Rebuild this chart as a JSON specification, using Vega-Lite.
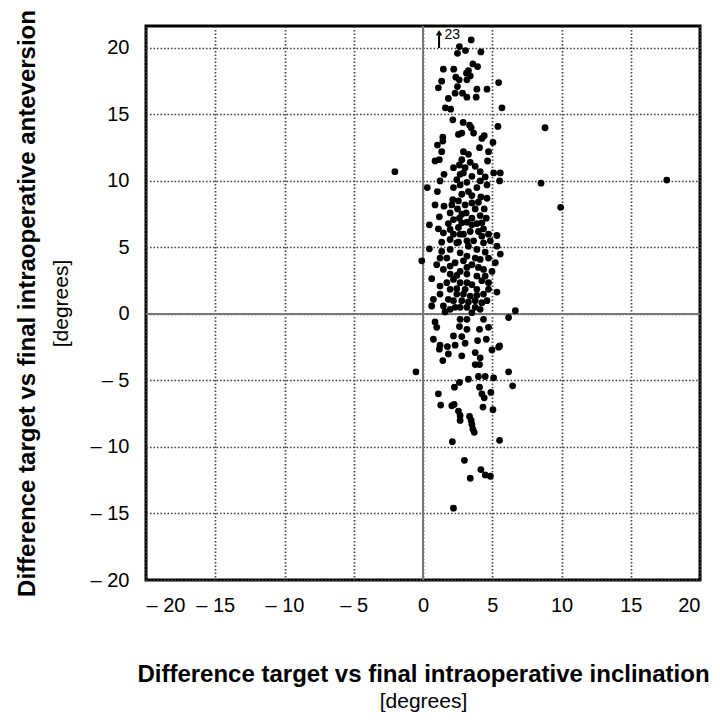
{
  "$schema": "https://vega.github.io/schema/vega-lite/v6.json",
  "width": 554,
  "height": 554,
  "autosize": "none",
  "padding": {"left": 146, "top": 26, "right": 20, "bottom": 140},
  "background": "white",
  "datasets": {
    "points": [
      {"x": 3.48, "y": 20.6}, {"x": 2.63, "y": 20.1}, {"x": 3.07, "y": 19.8}, {"x": 2.49, "y": 19.6}, {"x": 4.18, "y": 19.7},
      {"x": 1.47, "y": 18.4}, {"x": 2.22, "y": 18.4}, {"x": 3.6, "y": 18.8}, {"x": 3.94, "y": 18.6}, {"x": 3.28, "y": 18.3},
      {"x": 3.14, "y": 18.1}, {"x": 3.41, "y": 17.9}, {"x": 2.37, "y": 17.8}, {"x": 1.35, "y": 17.5}, {"x": 2.61, "y": 17.6},
      {"x": 3.17, "y": 17.6}, {"x": 5.46, "y": 17.4}, {"x": 1.11, "y": 17.0}, {"x": 2.49, "y": 17.1}, {"x": 3.89, "y": 16.9},
      {"x": 4.62, "y": 16.9}, {"x": 2.32, "y": 16.6}, {"x": 2.85, "y": 16.6}, {"x": 3.17, "y": 16.3}, {"x": 3.84, "y": 16.3},
      {"x": 1.83, "y": 16.2}, {"x": 5.7, "y": 15.5}, {"x": 1.62, "y": 15.5}, {"x": 2.0, "y": 15.4}, {"x": 2.15, "y": 14.6},
      {"x": 2.9, "y": 14.4}, {"x": 3.36, "y": 14.2}, {"x": 3.48, "y": 14.0}, {"x": 5.41, "y": 14.1}, {"x": 3.65, "y": 13.6},
      {"x": 2.8, "y": 13.6}, {"x": 2.56, "y": 13.5}, {"x": 4.42, "y": 13.4}, {"x": 1.43, "y": 13.3}, {"x": -2.03, "y": 10.7},
      {"x": 1.43, "y": 13.0}, {"x": 4.25, "y": 13.2}, {"x": 5.05, "y": 12.9}, {"x": 4.08, "y": 12.5}, {"x": 1.04, "y": 12.7},
      {"x": 1.35, "y": 12.2}, {"x": 4.73, "y": 12.2}, {"x": 2.92, "y": 12.2}, {"x": 0.87, "y": 11.5}, {"x": 1.18, "y": 11.6},
      {"x": 2.8, "y": 11.6}, {"x": 2.63, "y": 11.2}, {"x": 3.41, "y": 11.4}, {"x": 4.66, "y": 11.5}, {"x": 2.2, "y": 11.0},
      {"x": 3.04, "y": 11.0}, {"x": 3.77, "y": 11.1}, {"x": 4.13, "y": 10.7}, {"x": 2.92, "y": 10.6}, {"x": 5.58, "y": 10.6},
      {"x": 5.1, "y": 10.6}, {"x": 1.52, "y": 10.5}, {"x": 4.49, "y": 10.3}, {"x": 2.44, "y": 10.1}, {"x": 1.23, "y": 10.0},
      {"x": 5.53, "y": 10.0}, {"x": 0.31, "y": 9.5}, {"x": 3.17, "y": 9.9}, {"x": 4.13, "y": 10.0}, {"x": 4.62, "y": 9.7},
      {"x": 2.2, "y": 9.5}, {"x": 3.28, "y": 9.2}, {"x": 3.89, "y": 9.5}, {"x": 1.04, "y": 9.2}, {"x": 2.8, "y": 9.0},
      {"x": 3.53, "y": 8.9}, {"x": 4.18, "y": 8.8}, {"x": 4.62, "y": 8.7}, {"x": 2.15, "y": 8.6}, {"x": 4.0, "y": 8.4},
      {"x": 0.87, "y": 8.2}, {"x": 1.52, "y": 8.1}, {"x": 2.08, "y": 8.2}, {"x": 3.04, "y": 8.2}, {"x": 2.49, "y": 7.9},
      {"x": 3.77, "y": 7.9}, {"x": 4.42, "y": 7.9}, {"x": 1.96, "y": 7.6}, {"x": 3.12, "y": 7.6}, {"x": 1.18, "y": 7.3},
      {"x": 4.13, "y": 7.4}, {"x": 2.63, "y": 7.2}, {"x": 4.57, "y": 7.2}, {"x": 0.46, "y": 6.7}, {"x": 1.83, "y": 6.8},
      {"x": 3.17, "y": 6.9}, {"x": 3.89, "y": 6.8}, {"x": 1.11, "y": 6.4}, {"x": 2.56, "y": 6.5}, {"x": 4.37, "y": 6.4},
      {"x": 1.47, "y": 6.1}, {"x": 3.41, "y": 6.2}, {"x": 2.2, "y": 6.0}, {"x": 5.34, "y": 5.9}, {"x": 2.92, "y": 6.0},
      {"x": 4.73, "y": 6.0}, {"x": 1.35, "y": 5.4}, {"x": 3.65, "y": 5.5}, {"x": 4.86, "y": 5.5}, {"x": 2.56, "y": 5.4},
      {"x": 2.56, "y": 8.5}, {"x": 3.53, "y": 8.35}, {"x": 2.8, "y": 7.5}, {"x": 3.53, "y": 7.2}, {"x": 2.2, "y": 7.1},
      {"x": 4.25, "y": 6.85}, {"x": 2.8, "y": 6.85}, {"x": 3.53, "y": 6.7}, {"x": 1.96, "y": 6.35}, {"x": 4.0, "y": 6.2},
      {"x": 2.68, "y": 6.0}, {"x": 4.25, "y": 5.85}, {"x": 1.96, "y": 5.6}, {"x": 3.17, "y": 5.5}, {"x": 4.37, "y": 5.35},
      {"x": 3.28, "y": 12.0}, {"x": 2.68, "y": 10.5}, {"x": 3.53, "y": 10.35}, {"x": 2.68, "y": 9.7},
      {"x": 0.46, "y": 4.9}, {"x": -0.09, "y": 4.0}, {"x": 5.34, "y": 5.1}, {"x": 5.58, "y": 4.5}, {"x": 1.35, "y": 4.7},
      {"x": 1.96, "y": 4.85}, {"x": 2.68, "y": 4.6}, {"x": 3.89, "y": 4.85}, {"x": 4.49, "y": 4.65}, {"x": 1.72, "y": 4.2},
      {"x": 3.17, "y": 4.35}, {"x": 4.13, "y": 4.1}, {"x": 0.99, "y": 3.7}, {"x": 2.32, "y": 3.85}, {"x": 3.53, "y": 3.7},
      {"x": 5.22, "y": 3.85}, {"x": 1.47, "y": 3.35}, {"x": 2.68, "y": 3.2}, {"x": 4.37, "y": 3.35}, {"x": 4.98, "y": 3.2},
      {"x": 1.96, "y": 3.0}, {"x": 3.17, "y": 3.0}, {"x": 3.89, "y": 2.85}, {"x": 0.63, "y": 2.65}, {"x": 2.2, "y": 2.6},
      {"x": 4.73, "y": 2.35}, {"x": 1.72, "y": 2.35}, {"x": 2.68, "y": 2.35}, {"x": 3.53, "y": 2.2}, {"x": 4.25, "y": 2.5},
      {"x": 1.96, "y": 1.85}, {"x": 3.04, "y": 1.85}, {"x": 3.89, "y": 1.85}, {"x": 5.34, "y": 1.65}, {"x": 1.23, "y": 1.5},
      {"x": 2.44, "y": 1.5}, {"x": 3.41, "y": 1.35}, {"x": 4.37, "y": 1.5}, {"x": 0.75, "y": 1.1}, {"x": 1.83, "y": 1.1},
      {"x": 2.8, "y": 1.0}, {"x": 3.77, "y": 1.0}, {"x": 4.62, "y": 1.0}, {"x": 0.63, "y": 0.6}, {"x": 1.47, "y": 0.6},
      {"x": 2.32, "y": 0.5}, {"x": 3.17, "y": 0.5}, {"x": 4.13, "y": 0.35}, {"x": 6.67, "y": 0.25}, {"x": 6.18, "y": -0.27},
      {"x": 1.59, "y": 0.15}, {"x": 3.53, "y": 0.1}, {"x": 2.68, "y": -0.4}, {"x": 4.37, "y": -0.4}, {"x": 0.87, "y": -0.6},
      {"x": 3.17, "y": -0.4}, {"x": 0.99, "y": -1.0}, {"x": 2.63, "y": -0.95}, {"x": 4.08, "y": -1.15}, {"x": 4.73, "y": -1.0},
      {"x": 3.17, "y": -1.15}, {"x": 0.75, "y": -1.9}, {"x": 2.2, "y": -1.65}, {"x": 2.8, "y": -1.7}, {"x": 3.94, "y": -2.0},
      {"x": 4.57, "y": -1.9}, {"x": 1.23, "y": -2.35}, {"x": 2.32, "y": -2.35}, {"x": 3.04, "y": -2.2}, {"x": 5.53, "y": -2.4},
      {"x": 1.76, "y": -2.45},
      {"x": 2.44, "y": 5.35}, {"x": 3.28, "y": 5.1}, {"x": 1.23, "y": 4.2}, {"x": 2.92, "y": 4.0}, {"x": 3.77, "y": 4.2},
      {"x": 4.73, "y": 4.2}, {"x": 1.96, "y": 3.6}, {"x": 4.0, "y": 3.5}, {"x": 3.17, "y": 3.5}, {"x": 2.44, "y": 2.9},
      {"x": 4.49, "y": 2.85}, {"x": 1.23, "y": 2.1}, {"x": 3.17, "y": 2.35}, {"x": 2.44, "y": 1.9}, {"x": 4.73, "y": 1.85},
      {"x": 2.92, "y": 1.5}, {"x": 3.89, "y": 1.4}, {"x": 2.2, "y": 1.0}, {"x": 3.28, "y": 0.9}, {"x": 4.25, "y": 0.85},
      {"x": 2.68, "y": 0.5}, {"x": 3.77, "y": 0.5}, {"x": 1.96, "y": 0.35},
      {"x": 1.18, "y": -2.65}, {"x": 1.83, "y": -3.0}, {"x": 1.43, "y": -3.5}, {"x": 2.8, "y": -3.15}, {"x": 3.77, "y": -2.9},
      {"x": 4.13, "y": -3.3}, {"x": 4.98, "y": -2.7}, {"x": 5.46, "y": -2.5}, {"x": 3.77, "y": -3.8}, {"x": 4.08, "y": -3.8},
      {"x": -0.51, "y": -4.35}, {"x": 6.18, "y": -4.35}, {"x": 4.0, "y": -4.7}, {"x": 4.49, "y": -4.7}, {"x": 5.1, "y": -4.8},
      {"x": 3.28, "y": -4.9}, {"x": 2.63, "y": -5.15}, {"x": 2.27, "y": -5.5}, {"x": 4.08, "y": -5.5}, {"x": 6.47, "y": -5.4},
      {"x": 1.11, "y": -6.0}, {"x": 4.25, "y": -6.0}, {"x": 4.9, "y": -5.9}, {"x": 4.42, "y": -6.3}, {"x": 1.28, "y": -6.85},
      {"x": 2.08, "y": -6.9}, {"x": 2.25, "y": -6.8}, {"x": 4.33, "y": -7.0}, {"x": 5.05, "y": -7.2}, {"x": 2.56, "y": -7.3},
      {"x": 2.68, "y": -7.65}, {"x": 3.36, "y": -7.7}, {"x": 2.68, "y": -8.0}, {"x": 3.48, "y": -8.0}, {"x": 3.53, "y": -8.3},
      {"x": 3.6, "y": -8.65}, {"x": 3.7, "y": -8.9}, {"x": 2.12, "y": -9.6}, {"x": 5.53, "y": -9.5}, {"x": 2.99, "y": -11.0},
      {"x": 4.18, "y": -11.7}, {"x": 4.49, "y": -12.1}, {"x": 4.86, "y": -12.2}, {"x": 3.41, "y": -12.35}, {"x": 2.2, "y": -14.6},
      {"x": 8.81, "y": 14.0}, {"x": 8.52, "y": 9.83}, {"x": 9.94, "y": 8.02}, {"x": 17.6, "y": 10.07}
    ],
    "zero": [{"v": 0}],
    "note": [{"x": 1.16, "y": 20.0, "y2": 20.95, "tip": 21.15, "tx": 1.55, "ty": 20.65, "label": "23"}]
  },
  "layer": [
    {
      "data": {"name": "zero"},
      "mark": {"type": "rule", "color": "#777777", "strokeWidth": 2},
      "encoding": {
        "x": {
          "field": "v", "type": "quantitative",
          "scale": {"domain": [-20, 20], "nice": false, "zero": false},
          "axis": {
            "orient": "bottom", "labels": false, "grid": false, "ticks": false, "domain": false,
            "title": "[degrees]", "titleFontWeight": "normal", "titleFontSize": 21,
            "titleX": 277, "titleY": 127, "titleBaseline": "alphabetic", "titleAlign": "center"
          }
        }
      }
    },
    {
      "data": {"name": "zero"},
      "mark": {"type": "rule", "color": "#777777", "strokeWidth": 2},
      "encoding": {
        "y": {
          "field": "v", "type": "quantitative",
          "scale": {"domain": [-20, 21.65], "nice": false, "zero": false},
          "axis": {
            "orient": "left", "labels": false, "grid": false, "ticks": false, "domain": false,
            "title": "[degrees]", "titleFontWeight": "normal", "titleFontSize": 21,
            "titleX": -79, "titleY": 277, "titleAngle": -90, "titleBaseline": "alphabetic", "titleAlign": "center"
          }
        }
      }
    },
    {
      "data": {"name": "points"},
      "mark": {"type": "circle", "color": "black", "opacity": 1, "size": 46},
      "encoding": {
        "x": {
          "field": "x", "type": "quantitative",
          "scale": {"domain": [-20, 20], "nice": false, "zero": false},
          "axis": {
            "orient": "bottom", "values": [-20, -15, -10, -5, 0, 5, 10, 15, 20],
            "labelExpr": "datum.value < 0 ? '– ' + abs(datum.value) : datum.label",
            "labelPadding": 15, "grid": true,
            "title": "Difference target vs final intraoperative inclination",
            "titleFontWeight": "bold", "titleFontSize": 24,
            "titleX": 277, "titleY": 101, "titleBaseline": "alphabetic", "titleAlign": "center"
          }
        },
        "y": {
          "field": "y", "type": "quantitative",
          "scale": {"domain": [-20, 21.65], "nice": false, "zero": false},
          "axis": {
            "orient": "left", "values": [-20, -15, -10, -5, 0, 5, 10, 15, 20],
            "labelExpr": "datum.value < 0 ? '– ' + abs(datum.value) : datum.label",
            "labelPadding": 17, "grid": true,
            "title": "Difference target vs final intraoperative anteversion",
            "titleFontWeight": "bold", "titleFontSize": 24,
            "titleX": -112, "titleY": 277, "titleAngle": -90, "titleBaseline": "alphabetic", "titleAlign": "center"
          }
        }
      }
    },
    {
      "data": {"name": "note"},
      "mark": {"type": "rule", "color": "black", "strokeWidth": 2},
      "encoding": {
        "x": {"field": "x", "type": "quantitative", "axis": null},
        "y": {"field": "y", "type": "quantitative", "axis": null},
        "y2": {"field": "y2"}
      }
    },
    {
      "data": {"name": "note"},
      "mark": {"type": "point", "shape": "triangle-up", "filled": true, "color": "black", "opacity": 1, "size": 40},
      "encoding": {
        "x": {"field": "x", "type": "quantitative", "axis": null},
        "y": {"field": "tip", "type": "quantitative", "axis": null}
      }
    },
    {
      "data": {"name": "note"},
      "mark": {"type": "text", "align": "left", "baseline": "alphabetic", "fontSize": 14, "color": "black"},
      "encoding": {
        "x": {"field": "tx", "type": "quantitative", "axis": null},
        "y": {"field": "ty", "type": "quantitative", "axis": null},
        "text": {"field": "label"}
      }
    }
  ],
  "resolve": {"axis": {"x": "independent", "y": "independent"}},
  "config": {
    "font": "Liberation Sans",
    "view": {"stroke": "black", "strokeWidth": 3},
    "axis": {
      "domain": false,
      "ticks": false,
      "labelFont": "Liberation Sans",
      "labelFontSize": 20,
      "labelColor": "black",
      "titleFont": "Liberation Sans",
      "titleColor": "black",
      "gridColor": "#444444",
      "gridDash": [1.6, 1.9],
      "gridWidth": 1.7,
      "gridOpacity": 1
    }
  }
}
